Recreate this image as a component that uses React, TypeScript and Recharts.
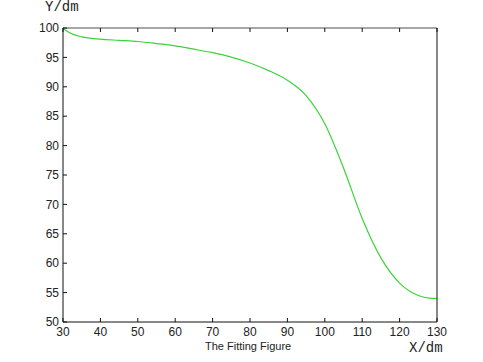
import { LineChart, Line, XAxis, YAxis } from "recharts";

const xValues = [30, 32, 35, 40, 45, 50, 55, 60, 65, 70, 75, 80, 85, 90, 95, 100, 105, 110, 115, 120, 125, 128, 130];
const yValues = [99.9, 99.1, 98.5, 98.1, 97.9, 97.7, 97.35, 96.95, 96.4, 95.8, 95.05, 94.05, 92.75, 91.1, 88.5, 83.7, 76.2, 67.6, 60.9, 56.6, 54.5, 54.05, 54.0];
const xTicks = [30, 40, 50, 60, 70, 80, 90, 100, 110, 120, 130];
const yTicks = [50, 55, 60, 65, 70, 75, 80, 85, 90, 95, 100];

const data = xValues.map((x, i) => ({ x, y: yValues[i] }));

const TICK_LEN = 4;
const labelStyle = { fontFamily: "Liberation Sans, Arial, sans-serif", fontSize: 12, fill: "#222" };

const BottomTick = (props: any) => {
  const { x, y, payload } = props;
  const axisY = y - 5;
  return (
    <g>
      <line x1={x} y1={axisY} x2={x} y2={axisY - TICK_LEN} stroke="#111" />
      <text x={x} y={y} dy="0.71em" textAnchor="middle" {...labelStyle}>{payload.value}</text>
    </g>
  );
};

const LeftTick = (props: any) => {
  const { x, y, payload } = props;
  const axisX = x + 4;
  return (
    <g>
      <line x1={axisX} y1={y} x2={axisX + TICK_LEN} y2={y} stroke="#111" />
      <text x={x} y={y} dy="0.355em" textAnchor="end" {...labelStyle}>{payload.value}</text>
    </g>
  );
};

const TopTick = (props: any) => {
  const { x, y } = props;
  return <line x1={x} y1={y} x2={x} y2={y + TICK_LEN} stroke="#111" />;
};

const RightTick = (props: any) => {
  const { x, y } = props;
  return <line x1={x} y1={y} x2={x - TICK_LEN} y2={y} stroke="#111" />;
};

export default function App() {
  return (
    <div style={{ position: "absolute", left: 0, top: 0, width: 483, height: 362, background: "#fff" }}>
      <LineChart width={483} height={362} data={data} margin={{ top: 0, right: 0, left: 0, bottom: 0 }}>
        <XAxis
          dataKey="x" type="number" domain={[30, 130]} ticks={xTicks}
          tickSize={0} tickMargin={5} height={40}
          axisLine={{ stroke: "#111" }} tick={<BottomTick />} interval={0}
        />
        <XAxis
          xAxisId="top" orientation="top" dataKey="x" type="number" domain={[30, 130]} ticks={xTicks}
          tickSize={0} tickMargin={0} height={28}
          axisLine={{ stroke: "#888", strokeWidth: 1.5 }} tick={<TopTick />} interval={0}
        />
        <YAxis
          type="number" domain={[50, 100]} ticks={yTicks}
          tickSize={0} tickMargin={4} width={63}
          axisLine={{ stroke: "#111" }} tick={<LeftTick />} interval={0}
        />
        <YAxis
          yAxisId="right" orientation="right" type="number" domain={[50, 100]} ticks={yTicks}
          tickSize={0} tickMargin={0} width={46}
          axisLine={{ stroke: "#111" }} tick={<RightTick />} interval={0}
        />
        <Line
          dataKey="y" type="monotone" stroke="#3ad43a" strokeWidth={1.2}
          dot={false} isAnimationActive={false}
        />
      </LineChart>
      <div style={{ position: "absolute", left: 45, top: -1, fontFamily: "Liberation Mono, monospace", fontSize: 14, color: "#222" }}>
        Y/dm
      </div>
      <div style={{ position: "absolute", left: 409, top: 340, fontFamily: "Liberation Mono, monospace", fontSize: 14, color: "#222" }}>
        X/dm
      </div>
      <div style={{ position: "absolute", left: 205, top: 340, fontFamily: "Liberation Sans, Arial, sans-serif", fontSize: 11, color: "#222" }}>
        The Fitting Figure
      </div>
    </div>
  );
}
